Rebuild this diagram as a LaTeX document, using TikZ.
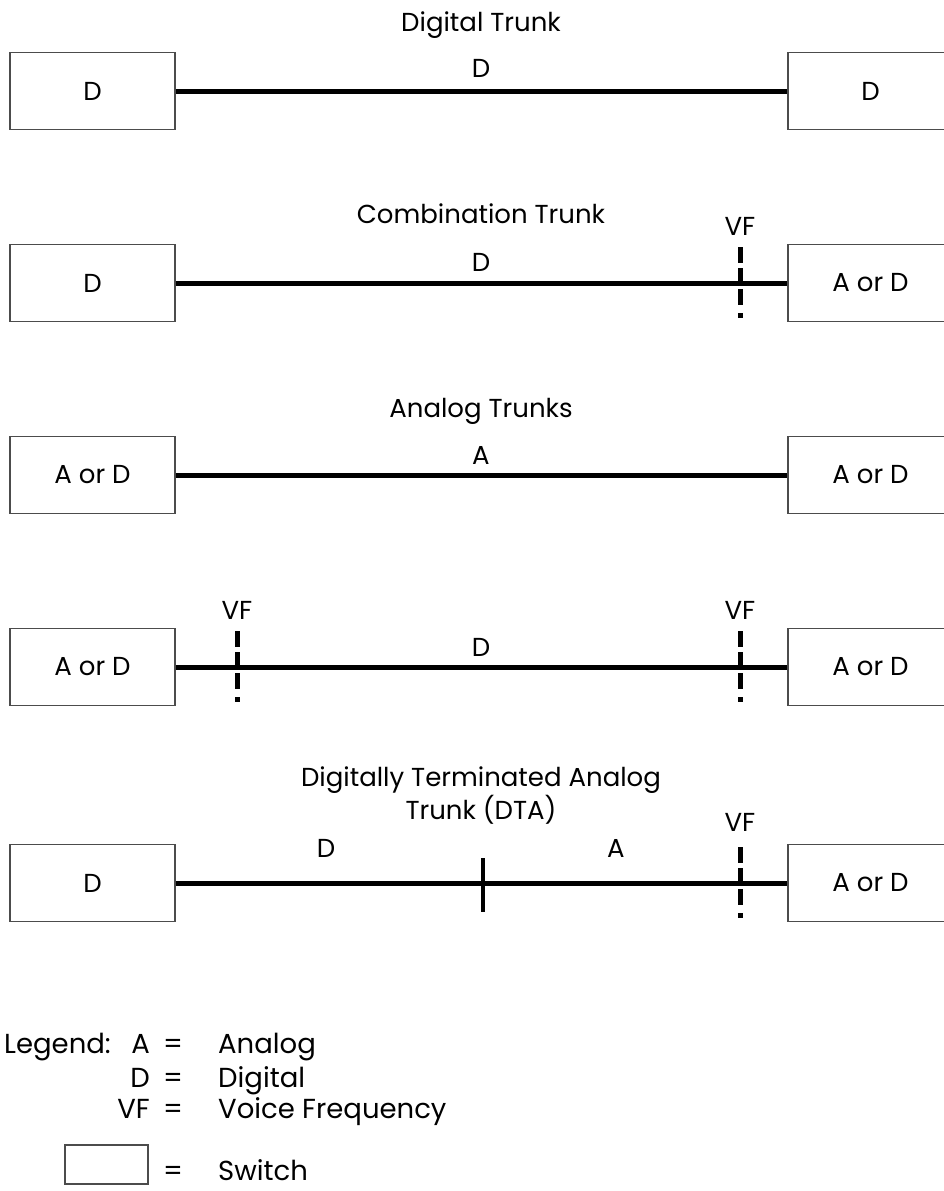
\documentclass[tikz,border=0pt]{standalone}
\usepackage{fontspec}
\setmainfont{Poppins}
\begin{document}
\begin{tikzpicture}[
  x=1pt, y=-1pt,
  every node/.style={font=\fontsize{26}{30}\selectfont, inner sep=0pt},
  lab/.style={anchor=base},
  key/.style={font=\fontsize{27.5}{32}\selectfont},
  switch/.style={draw=black!70, line width=1.2pt, minimum width=165pt,
                 minimum height=77pt},
  trunk/.style={line width=5pt},
  vfmark/.style={line width=5pt,
                 dash pattern=on 16pt off 5pt on 16pt off 5pt on 16pt off 8pt on 5pt}
]
  \useasboundingbox (0,0) rectangle (944,1191);
  % switches and trunk lines
  \foreach \r/\y/\lt/\rt in {1/91/D/D, 2/283/D/A or D, 3/475/A or D/A or D,
                             4/667/A or D/A or D, 5/883/D/A or D} {
    \node[switch] (l\r) at (92.5,\y) {\lt};
    \node[switch] (r\r) at (870.5,\y) {\rt};
    \draw[trunk] (l\r.east) -- (r\r.west);
  }
  % titles
  \node[lab] (t1) at (481,31) {Digital Trunk};
  \node[lab] (t2) at (481,223) {Combination Trunk};
  \node[lab] (t3) at (481,417) {Analog Trunks};
  \node[lab] (t5a) at (481,786) {Digitally Terminated Analog};
  \node[lab] (t5b) at (481,819) {Trunk (DTA)};
  % line labels
  \node[lab] (d1) at (481,77) {D};
  \node[lab] (d2) at (481,271) {D};
  \node[lab] (a3) at (481,464) {A};
  \node[lab] (d4) at (481,656) {D};
  \node[lab] (d5) at (326,857) {D};
  \node[lab] (a5) at (616,857) {A};
  % voice frequency points
  \foreach \n/\x/\y/\b in {v2/740/283/235, v4a/237/667/619, v4b/740/667/619,
                           v5/740/883/831} {
    \coordinate (\n top) at (\x,\y-36);
    \coordinate (\n bot) at (\x,\y+35);
    \draw[vfmark] (\n top) -- (\n bot);
    \node[lab] (\n lab) at (\x,\b) {VF};
  }
  % digital/analog boundary
  \coordinate (m5top) at (483,858);
  \coordinate (m5bot) at (483,912);
  \draw[line width=4pt] (m5top) -- (m5bot);
  % legend
  \node[key, anchor=base west] (leg) at (4,1053) {Legend:};
  \foreach \k/\y/\txt in {A/1053/Analog, D/1087/Digital, VF/1118/Voice Frequency} {
    \node[key, anchor=base east] (k\k) at (150,\y) {\k};
    \node[key, lab] (e\k) at (173,\y) {=};
    \node[key, anchor=base west] (w\k) at (218,\y) {\txt};
  }
  \node[switch, minimum width=83pt, minimum height=39pt] (keybox) at (106.5,1164.5) {};
  \node[key, lab] (ekey) at (173,1180) {=};
  \node[key, anchor=base west] (wkey) at (218,1180) {Switch};
\end{tikzpicture}
\end{document}
